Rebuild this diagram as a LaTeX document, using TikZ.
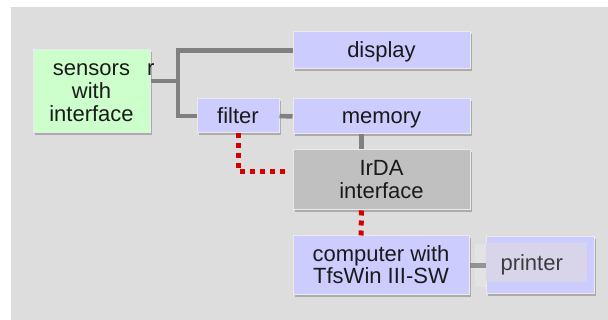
\documentclass[tikz,border=0pt]{standalone}
\usepackage{fontspec}
\setmainfont{Liberation Sans}
\usetikzlibrary{shadows}
\definecolor{bg}{HTML}{DDDDDD}
\definecolor{boxblue}{HTML}{CCCCFF}
\definecolor{boxgreen}{HTML}{CCFFCC}
\definecolor{boxgray}{HTML}{C0C0C0}
\definecolor{wire}{HTML}{808080}
\definecolor{reddot}{HTML}{D40000}
\definecolor{inner}{HTML}{D8D5EB}
\definecolor{pale}{HTML}{E5E5E5}
\definecolor{edge}{HTML}{EAEAEA}
\definecolor{ink}{HTML}{1A1A1A}
\newcommand{\boxtext}[1]{\raisebox{-2.5pt}[\height][\depth]{\begin{tabular}{@{}c@{}}#1\end{tabular}}}
\tikzset{
  blk/.style={draw=edge, line width=1pt, text=ink, align=center, inner sep=0pt,
    font=\fontsize{22}{22.5}\selectfont,
    drop shadow={shadow xshift=2pt, shadow yshift=-2pt, fill=black!33, opacity=1}},
  wireline/.style={draw=wire, line width=4.5pt},
  irline/.style={draw=reddot, line width=5pt, dash pattern=on 5pt off 5pt}
}
\begin{document}
\begin{tikzpicture}[x=1pt,y=-1pt]
\useasboundingbox (0,0) rectangle (608,320);
\fill[white] (0,0) rectangle (608,320);
\fill[bg] (11,7) rectangle (608,320);

\coordinate (j1) at (178,81);
\coordinate (rcorner) at (238,172);

\node[blk, fill=boxgreen, minimum width=117pt, minimum height=83pt] (sensors) at (91.5,91.5) {\boxtext{sensors\\with\\interface}};
\node[blk, fill=boxblue, minimum width=177pt, minimum height=37pt] (display) at (381.5,50.5) {\boxtext{display}};
\node[blk, fill=boxblue, minimum width=82pt, minimum height=34pt] (filter) at (238,116) {\boxtext{filter}};
\node[blk, fill=boxblue, minimum width=177pt, minimum height=35pt] (memory) at (381.5,116.5) {\boxtext{memory}};
\node[blk, fill=boxgray, minimum width=177pt, minimum height=60pt] (irda) at (381.5,180) {\boxtext{IrDA\\interface}};
\node[blk, fill=boxblue, minimum width=176pt, minimum height=59pt] (computer) at (381,265.5) {\boxtext{computer with\\TfsWin III-SW}};
\node[blk, fill=boxblue, minimum width=108pt, minimum height=57pt] (printer) at (540,265.5) {};
\node[fill=inner, minimum width=101pt, minimum height=39pt, inner sep=0pt, anchor=north west,
      text=ink!85, font=\fontsize{22}{22.5}\selectfont] (prtext) at (486,243) {\hspace*{-10pt}\raisebox{-2pt}[\height][\depth]{printer}};
\node[fill=pale, opacity=0.8, minimum width=11pt, minimum height=43pt, inner sep=0pt, anchor=north west] (palebar) at (475,244) {};

\node[anchor=base west, inner sep=0pt, text=ink, font=\fontsize{22}{22.5}\selectfont] (rlabel) at (147,76) {r};

\draw[wireline] (sensors.east |- j1) -- (j1);
\draw[wireline] (filter.west) -| (j1) |- (display.west);
\draw[wireline] (filter.east) -- (memory.west);
\draw[wireline] ([xshift=-20pt]memory.south) -- ([xshift=-20pt]irda.north);
\draw[wireline, draw opacity=0.8] (computer.east) -- (printer.west);

\draw[irline] (filter.south) -- (rcorner) -- ([xshift=-4pt]irda.west |- rcorner);
\draw[irline] ([xshift=-20pt]irda.south) -- ([xshift=-20pt]computer.north);
\end{tikzpicture}
\end{document}
